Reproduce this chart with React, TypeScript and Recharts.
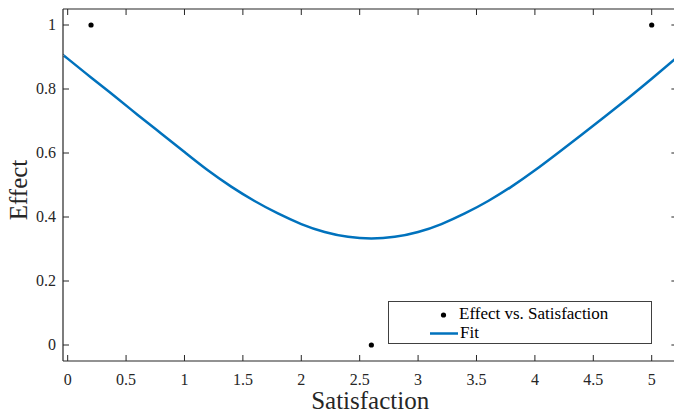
import { ComposedChart, Line, Scatter, XAxis, YAxis, Label } from 'recharts';

const pointX = [0.2, 2.6, 5];
const pointY = [1, 0, 1];

const fitX = [-0.04, 0, 0.2, 0.4, 0.6, 0.8, 1.0, 1.2, 1.4, 1.6, 1.8, 2.0, 2.2, 2.4, 2.6, 2.8, 3.0, 3.2, 3.4, 3.6, 3.8, 4.0, 4.2, 4.4, 4.6, 4.8, 5.0, 5.2];
const fitY = [0.906, 0.895, 0.836, 0.778, 0.719, 0.661, 0.603, 0.546, 0.495, 0.45, 0.411, 0.378, 0.353, 0.338, 0.333, 0.338, 0.353, 0.378, 0.411, 0.45, 0.495, 0.546, 0.601, 0.657, 0.714, 0.772, 0.832, 0.894];

const xTicks = [0, 0.5, 1, 1.5, 2, 2.5, 3, 3.5, 4, 4.5, 5];
const yTicks = [0, 0.2, 0.4, 0.6, 0.8, 1];

const points = pointX.map((x, i) => ({ x, y: pointY[i] }));
const fit = fitX.map((x, i) => ({ x, y: fitY[i] }));

const AXIS = '#262626';
const FONT = '"Liberation Serif", "Times New Roman", serif';
const TICK_LEN = 6;

const BottomTick = (props: any) => {
  const { x, y, payload } = props;
  return (
    <g>
      <line x1={x} y1={y} x2={x} y2={y - TICK_LEN} stroke={AXIS} strokeWidth={1} />
      <text x={x} y={y + 24} textAnchor="middle" fill={AXIS} fontSize={16} fontFamily={FONT}>{payload.value}</text>
    </g>
  );
};

const TopTick = (props: any) => {
  const { x, y } = props;
  return <line x1={x} y1={y} x2={x} y2={y + TICK_LEN} stroke={AXIS} strokeWidth={1} />;
};

const LeftTick = (props: any) => {
  const { x, y, payload } = props;
  return (
    <g>
      <line x1={x} y1={y} x2={x + TICK_LEN} y2={y} stroke={AXIS} strokeWidth={1} />
      <text x={x - 7} y={y + 5} textAnchor="end" fill={AXIS} fontSize={16} fontFamily={FONT}>{payload.value}</text>
    </g>
  );
};

const RightTick = (props: any) => {
  const { x, y } = props;
  return <line x1={x} y1={y} x2={x - TICK_LEN} y2={y} stroke={AXIS} strokeWidth={1} />;
};

const Dot = (props: any) => {
  const { cx, cy } = props;
  return <circle cx={cx} cy={cy} r={2.6} fill="#000" />;
};

function LegendBox() {
  return (
    <div style={{
      position: 'absolute', left: 388, top: 301, width: 264, height: 43, boxSizing: 'border-box',
      border: '1px solid #404040', background: '#fff', fontFamily: FONT, fontSize: 17, color: '#000',
    }}>
      <div style={{ position: 'absolute', left: 50, top: 2, lineHeight: '19px', whiteSpace: 'nowrap' }}>
        <svg width={12} height={19} style={{ verticalAlign: 'top', marginRight: 8 }}>
          <circle cx={4.5} cy={11} r={2.6} fill="#000" />
        </svg>
        Effect vs. Satisfaction
      </div>
      <div style={{ position: 'absolute', left: 40, top: 21, lineHeight: '19px', whiteSpace: 'nowrap' }}>
        <svg width={29} height={19} style={{ verticalAlign: 'top', marginRight: 2 }}>
          <line x1={1} y1={10.5} x2={29} y2={10.5} stroke="#0072BD" strokeWidth={2.5} />
        </svg>
        Fit
      </div>
    </div>
  );
}

export default function App() {
  return (
    <div style={{ position: 'absolute', left: 0, top: 0, width: 674, height: 413, overflow: 'hidden', background: '#fff' }}>
      <ComposedChart width={690} height={413} margin={{ top: 0, right: 0, bottom: 0, left: 0 }}>
        <XAxis
          xAxisId="b" type="number" dataKey="x" domain={[-0.04, 5.22]} ticks={xTicks} allowDataOverflow
          height={52} tickSize={0} tickMargin={0} tickLine={false} tick={<BottomTick />}
          axisLine={{ stroke: AXIS, strokeWidth: 1.2 }} interval={0}
        >
          <Label content={(p: any) => {
            const vb = p.viewBox;
            return (
              <text x={vb.x + vb.width / 2} y={409} textAnchor="middle" fill={AXIS} fontSize={25} fontFamily={FONT}>
                Satisfaction
              </text>
            );
          }} />
        </XAxis>
        <XAxis
          xAxisId="t" orientation="top" type="number" dataKey="x" domain={[-0.04, 5.22]} ticks={xTicks} allowDataOverflow
          height={9} tickSize={0} tickMargin={0} tickLine={false} tick={<TopTick />}
          axisLine={{ stroke: AXIS, strokeWidth: 1.2 }} interval={0}
        />
        <YAxis
          yAxisId="l" type="number" domain={[-0.05, 1.05]} ticks={yTicks} allowDataOverflow
          width={63} tickSize={0} tickMargin={0} tickLine={false} tick={<LeftTick />}
          axisLine={{ stroke: AXIS, strokeWidth: 1.2 }} interval={0}
        >
          <Label content={() => (
            <text x={27} y={190} transform="rotate(-90 27 190)" textAnchor="middle" fill={AXIS} fontSize={25} fontFamily={FONT}>
              Effect
            </text>
          )} />
        </YAxis>
        <YAxis
          yAxisId="r" orientation="right" type="number" domain={[-0.05, 1.05]} ticks={yTicks} allowDataOverflow
          width={12.6} tickSize={0} tickMargin={0} tickLine={false} tick={<RightTick />}
          axisLine={{ stroke: AXIS, strokeWidth: 1.2 }} interval={0}
        />
        <Line
          xAxisId="b" yAxisId="l" data={fit} dataKey="y" type="natural" stroke="#0072BD" strokeWidth={2.5}
          dot={false} activeDot={false} isAnimationActive={false}
        />
        <Scatter
          xAxisId="b" yAxisId="l" data={points} dataKey="y" shape={<Dot />} isAnimationActive={false}
        />
      </ComposedChart>
      <LegendBox />
    </div>
  );
}
